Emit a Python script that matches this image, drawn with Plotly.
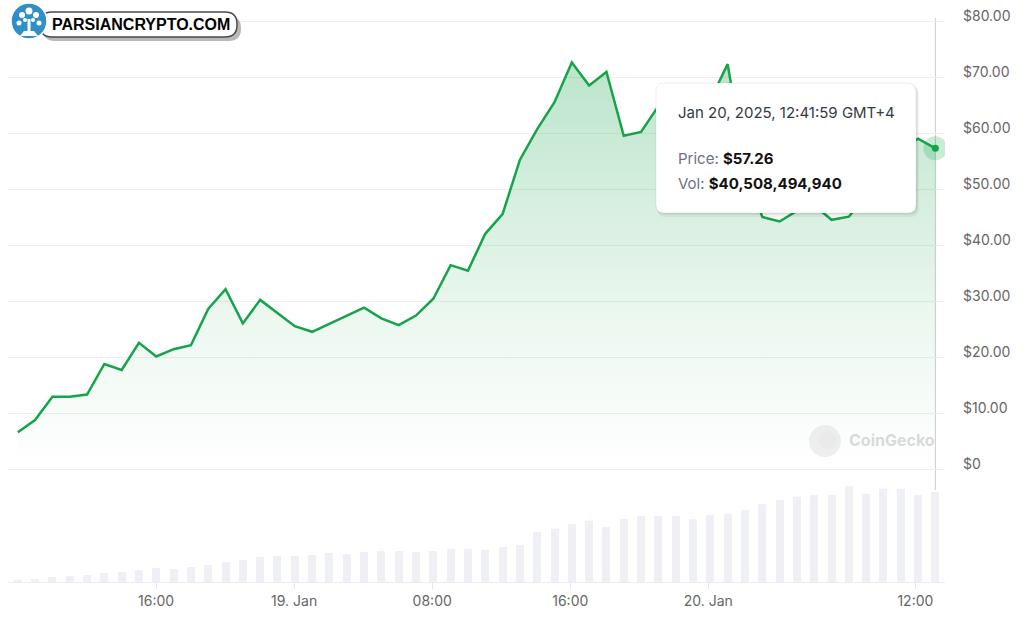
import plotly.graph_objects as go
import pandas as pd

# ---------------- data ----------------
price = [6.55, 8.75, 12.9, 12.9, 13.3, 18.75, 17.7, 22.55, 20.1, 21.4,
         22.1, 28.6, 32.1, 26.0, 30.2, 27.9, 25.5, 24.5, 25.9, 27.3,
         28.8, 26.9, 25.7, 27.4, 30.4, 36.4, 35.4, 42.0, 45.5, 55.2,
         60.7, 65.5, 72.6, 68.5, 70.9, 59.5, 60.2, 64.8, 66.6, 65.2,
         65.9, 72.3, 54.3, 45.0, 44.2, 46.1, 47.1, 44.5, 45.05, 48.9,
         53.4, 57.0, 59.0, 57.26]
volume_b = [0.9, 1.5, 2.2, 2.7, 3.3, 3.9, 4.4, 5.5, 6.1, 6.0,
            6.6, 7.6, 8.8, 10.0, 11.1, 11.7, 11.7, 12.1, 12.8, 12.7,
            13.3, 13.9, 13.9, 13.3, 13.9, 14.8, 14.8, 14.4, 15.7, 16.6,
            22.3, 23.8, 26.2, 27.2, 24.5, 28.4, 29.6, 29.6, 29.6, 28.4,
            30.1, 30.6, 32.3, 35.0, 36.8, 38.0, 39.0, 39.0, 43.1, 39.6,
            41.9, 41.9, 39.0, 40.51]
times = pd.date_range("2025-01-18 07:59", periods=len(price), freq="3612s")

x_tickvals = ["2025-01-18 16:00", "2025-01-19 00:00", "2025-01-19 08:00",
              "2025-01-19 16:00", "2025-01-20 00:00", "2025-01-20 12:00"]
x_ticktext = ["16:00", "19. Jan", "08:00", "16:00", "20. Jan", "12:00"]
y_tickvals = [0, 10, 20, 30, 40, 50, 60, 70, 80]
y_ticktext = ["$0", "$10.00", "$20.00", "$30.00", "$40.00", "$50.00",
              "$60.00", "$70.00", "$80.00"]

tooltip_date = "Jan 20, 2025, 12:41:59 GMT+4"
tooltip_price = "$57.26"
tooltip_vol = "$40,508,494,940"

GREEN = "#16a34a"
FONT = "Inter"

# ---------------- geometry helpers (pixel -> paper) ----------------
L, R, T, B = 8, 945, 20, 582
W, H = R - L, B - T


def px(x):
    return (x - L) / W


def py(y):
    return (B - y) / H


def rrect(x0, y0, x1, y1, r):
    pts = [
        ("M", [(x0 + r, y0)]), ("L", [(x1 - r, y0)]), ("Q", [(x1, y0), (x1, y0 + r)]),
        ("L", [(x1, y1 - r)]), ("Q", [(x1, y1), (x1 - r, y1)]),
        ("L", [(x0 + r, y1)]), ("Q", [(x0, y1), (x0, y1 - r)]),
        ("L", [(x0, y0 + r)]), ("Q", [(x0, y0), (x0 + r, y0)]),
    ]
    s = ""
    for cmd, ps in pts:
        s += cmd + " " + " ".join(f"{px(a):.5f},{py(b):.5f}" for a, b in ps) + " "
    return s + "Z"


def circ(cx, cy, r):
    return dict(type="circle", xref="paper", yref="paper",
                x0=px(cx - r), x1=px(cx + r), y0=py(cy + r), y1=py(cy - r))


# ---------------- figure ----------------
fig = go.Figure()

bar_w_ms = 8 / 17.257 * 3600 * 1000
fig.add_trace(go.Bar(x=times, y=volume_b, yaxis="y2", width=bar_w_ms,
                     marker=dict(color="#eef0f5", line=dict(width=0)),
                     hoverinfo="skip"))

fig.add_trace(go.Scatter(
    x=times, y=price, mode="lines",
    line=dict(color=GREEN, width=2.5),
    fill="tozeroy",
    fillgradient=dict(type="vertical", start=0, stop=75,
                      colorscale=[[0, "rgba(22,163,74,0.0)"],
                                  [0.35, "rgba(22,163,74,0.08)"],
                                  [1, "rgba(22,163,74,0.30)"]]),
    hoverinfo="skip"))

# hover marker at last point
fig.add_trace(go.Scatter(x=[times[-1]], y=[price[-1]], mode="markers",
                         marker=dict(size=24, color="rgba(22,163,74,0.22)"),
                         hoverinfo="skip"))
fig.add_trace(go.Scatter(x=[times[-1]], y=[price[-1]], mode="markers",
                         marker=dict(size=7, color=GREEN),
                         hoverinfo="skip"))

shapes = []
# crosshair
shapes.append(dict(type="line", xref="x", yref="paper",
                   x0=times[-1], x1=times[-1], y0=py(490), y1=py(18),
                   line=dict(color="#cccccc", width=1), layer="below"))
# tooltip shadow + box
shapes.append(dict(type="path", xref="paper", yref="paper",
                   path=rrect(657, 86, 919, 217, 9),
                   fillcolor="rgba(0,0,0,0.05)", line=dict(width=0)))
shapes.append(dict(type="path", xref="paper", yref="paper",
                   path=rrect(656, 84, 918, 215, 9),
                   fillcolor="rgba(0,0,0,0.05)", line=dict(width=0)))
shapes.append(dict(type="path", xref="paper", yref="paper",
                   path=rrect(656, 83, 916, 213, 8),
                   fillcolor="white", line=dict(color="rgba(0,0,0,0.07)", width=1)))
# coingecko watermark
shapes.append({**circ(825, 441, 16), "fillcolor": "rgba(210,210,210,0.35)",
               "line": dict(width=0)})
shapes.append({**circ(828, 440, 9), "fillcolor": "rgba(230,230,230,0.5)",
               "line": dict(width=0)})

# logo: shadow, pill, circle, tree
shapes.append(dict(type="path", xref="paper", yref="paper",
                   path=rrect(43, 16, 241, 41, 12),
                   fillcolor="rgba(0,0,0,0.28)", line=dict(width=0)))
shapes.append(dict(type="path", xref="paper", yref="paper",
                   path=rrect(40, 12, 237, 37, 12),
                   fillcolor="white", line=dict(color="#4a4a4a", width=1.5)))
shapes.append({**circ(29, 21, 18), "fillcolor": "#2f8fc6",
               "line": dict(color="white", width=1.5)})
shapes.append(dict(type="rect", xref="paper", yref="paper",
                   x0=px(27.5), x1=px(30.5), y0=py(35), y1=py(19),
                   fillcolor="white", line=dict(width=0)))
for cx, cy, r in [(29, 11, 3.5), (22, 15, 3), (36, 15, 3), (19, 23, 2.5),
                  (39, 23, 2.5), (25, 20, 2), (33, 20, 2)]:
    shapes.append({**circ(cx, cy, r), "fillcolor": "white", "line": dict(width=0)})
shapes.append(dict(type="path", xref="paper", yref="paper",
                   path=(f"M {px(20):.5f},{py(36):.5f} L {px(38):.5f},{py(36):.5f} "
                         f"L {px(34):.5f},{py(31):.5f} L {px(24):.5f},{py(31):.5f} Z"),
                   fillcolor="white", line=dict(width=0)))

annotations = [
    dict(xref="paper", yref="paper", x=px(676), y=py(113), xanchor="left",
         yanchor="middle", showarrow=False, text=tooltip_date,
         font=dict(family=FONT, size=15, color="#333a45")),
    dict(xref="paper", yref="paper", x=px(676), y=py(158), xanchor="left",
         yanchor="middle", showarrow=False,
         text=f"<span style='color:#6b7280'>Price:</span> <b>{tooltip_price}</b>",
         font=dict(family=FONT, size=15, color="#111111")),
    dict(xref="paper", yref="paper", x=px(676), y=py(183), xanchor="left",
         yanchor="middle", showarrow=False,
         text=f"<span style='color:#6b7280'>Vol:</span> <b>{tooltip_vol}</b>",
         font=dict(family=FONT, size=15, color="#111111")),
    dict(xref="paper", yref="paper", x=px(847), y=py(440), xanchor="left",
         yanchor="middle", showarrow=False, text="<b>CoinGecko</b>",
         font=dict(family=FONT, size=16, color="rgba(160,160,160,0.4)")),
    dict(xref="paper", yref="paper", x=px(141), y=py(24.5), xanchor="center",
         yanchor="middle", showarrow=False, text="<b>PARSIANCRYPTO.COM</b>",
         font=dict(family="Liberation Sans", size=16, color="#000000")),
]

fig.update_layout(
    width=1025, height=625,
    margin=dict(l=L, r=1025 - R, t=T, b=625 - B),
    paper_bgcolor="white", plot_bgcolor="white",
    showlegend=False, hovermode=False, bargap=0,
    font=dict(family=FONT),
    shapes=shapes, annotations=annotations,
    xaxis=dict(type="date",
               range=["2025-01-18 07:25", "2025-01-20 13:43"],
               tickvals=x_tickvals, ticktext=x_ticktext,
               showgrid=False, zeroline=False,
               showline=True, linecolor="#ececec", linewidth=1,
               ticks="outside", ticklen=6, tickcolor="#e6e6e6",
               tickfont=dict(family=FONT, size=14, color="#666666")),
    yaxis=dict(side="right", range=[-20.179, 80.18],
               tickvals=y_tickvals, ticktext=y_ticktext,
               showgrid=True, gridcolor="#efefef", gridwidth=1,
               zeroline=True, zerolinecolor="#efefef", zerolinewidth=1,
               showline=False, ticks="",
               ticklabelshift=-5, ticklabelstandoff=17,
               tickfont=dict(family=FONT, size=14, color="#666666")),
    yaxis2=dict(overlaying="y", range=[0, 252.1], visible=False,
                showgrid=False, zeroline=False),
)

fig.write_html("out.html")
